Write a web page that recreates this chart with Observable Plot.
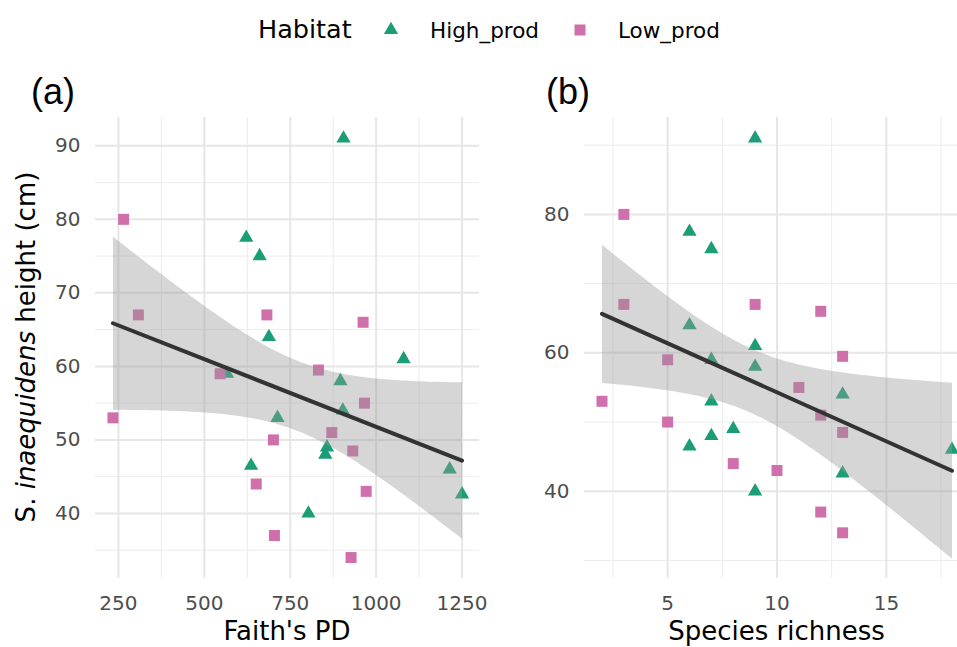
<!DOCTYPE html>
<html><head><meta charset="utf-8">
<script src="https://cdn.jsdelivr.net/npm/d3@7"></script>
<script src="https://cdn.jsdelivr.net/npm/@observablehq/plot@0.6"></script>
<style>
body{margin:0;background:#fff;}
#wrap{position:relative;width:957px;height:647px;overflow:hidden;}
#wrap > .panel{position:absolute;top:0;}
#overlay{position:absolute;left:0;top:0;pointer-events:none;}
</style></head><body><div id="wrap"></div>
<script>
// ---- data ----
const habitatNames = ["High_prod", "Low_prod"];
const habitatColors = ["#1b9e77", "#cf6fab"];
const habitat = [
  "Low_prod","Low_prod","Low_prod","Low_prod","Low_prod","Low_prod","Low_prod","Low_prod",
  "Low_prod","Low_prod","Low_prod","Low_prod","Low_prod","Low_prod","Low_prod",
  "High_prod","High_prod","High_prod","High_prod","High_prod","High_prod","High_prod","High_prod",
  "High_prod","High_prod","High_prod","High_prod","High_prod","High_prod","High_prod"
];
const faithPD = [265, 308, 682, 962, 234, 546, 832, 966, 871, 701, 932, 651, 971, 704, 927,
                 905, 622, 661, 688, 1080, 566, 896, 903, 713, 857, 852, 636, 1214, 1250, 803];
const richness = [3, 3, 9, 12, 2, 5, 13, 11, 12, 5, 13, 8, 10, 12, 13,
                  9, 6, 7, 6, 9, 7, 9, 13, 7, 8, 7, 6, 18, 13, 9];
const heightCm = [80, 67, 67, 66, 53, 59, 59.5, 55, 51, 50, 48.5, 44, 43, 37, 34,
                  91, 77.5, 75, 64, 61, 59, 58, 54, 53, 49, 48, 46.5, 46, 42.6, 40];

// axis ticks / domains
const aXTicks = [250, 500, 750, 1000, 1250];
const aXMinor = [375, 625, 875, 1125];
const aYTicks = [40, 50, 60, 70, 80, 90];
const aYMinor = [35, 45, 55, 65, 75, 85];
const aXDomain = [183.2, 1300.8];
const aYDomain = [31.15, 93.85];
const bXTicks = [5, 10, 15];
const bXMinor = [2.5, 7.5, 12.5, 17.5];
const bYTicks = [40, 60, 80];
const bYMinor = [30, 50, 70, 90];
const bXDomain = [1.2, 18.8];
const bYDomain = [27.4, 94.0];

const rows = heightCm.map((h, i) => ({habitat: habitat[i], pd: faithPD[i], sr: richness[i], h}));

const wrap = document.getElementById("wrap");
const FONT = "DejaVu Sans, sans-serif";

function panel({xKey, xDomain, yDomain, xTicks, xMinor, yTicks, yMinor, width, marginLeft, marginRight, left}) {
  const p = Plot.plot({
    width, height: 647,
    marginLeft, marginRight, marginTop: 117, marginBottom: 69,
    style: {fontFamily: FONT, fontSize: "20px", color: "#4d4d4d", background: "transparent", overflow: "visible"},
    x: {domain: xDomain, ticks: xTicks, tickSize: 0, tickPadding: 17, tickFormat: d => String(d), label: null},
    y: {domain: yDomain, ticks: yTicks, tickSize: 0, tickPadding: 15, tickFormat: d => String(d), label: null},
    color: {domain: habitatNames, range: habitatColors},
    marks: [
      Plot.ruleX(xMinor, {stroke: "#ececec", strokeWidth: 1}),
      Plot.ruleY(yMinor, {stroke: "#ececec", strokeWidth: 1}),
      Plot.ruleX(xTicks, {stroke: "#e6e6e6", strokeWidth: 2}),
      Plot.ruleY(yTicks, {stroke: "#e6e6e6", strokeWidth: 2}),
      Plot.dot(rows.filter(d => d.habitat === "High_prod"), {x: xKey, y: "h", fill: "habitat", symbol: "triangle", r: 5.3, stroke: "none"}),
      Plot.dot(rows.filter(d => d.habitat === "Low_prod"), {x: xKey, y: "h", fill: "habitat", symbol: "square", r: 6.2, stroke: "none"}),
      Plot.linearRegressionY(rows, {x: xKey, y: "h", stroke: "#333333", strokeWidth: 4, fill: "#999999", fillOpacity: 0.4, ci: 0.95})
    ]
  });
  p.classList.add("panel");
  p.style.left = left + "px";
  wrap.appendChild(p);
}

panel({xKey: "pd", xDomain: aXDomain, yDomain: aYDomain, xTicks: aXTicks, xMinor: aXMinor, yTicks: aYTicks, yMinor: aYMinor,
       width: 481, marginLeft: 95, marginRight: 2, left: 0});
panel({xKey: "sr", xDomain: bXDomain, yDomain: bYDomain, xTicks: bXTicks, xMinor: bXMinor, yTicks: bYTicks, yMinor: bYMinor,
       width: 489, marginLeft: 104, marginRight: 0, left: 480});

// ---- overlay: titles, tags, legend ----
const ns = "http://www.w3.org/2000/svg";
const svg = document.createElementNS(ns, "svg");
svg.setAttribute("id", "overlay");
svg.setAttribute("width", 957);
svg.setAttribute("height", 647);
svg.style.fontFamily = FONT;
wrap.appendChild(svg);
function txt(x, y, s, size, opts = {}) {
  const t = document.createElementNS(ns, "text");
  t.setAttribute("x", x); t.setAttribute("y", y);
  t.setAttribute("font-size", size);
  t.setAttribute("fill", opts.fill || "#000");
  if (opts.anchor) t.setAttribute("text-anchor", opts.anchor);
  if (opts.family) t.setAttribute("font-family", opts.family);
  if (opts.transform) t.setAttribute("transform", opts.transform);
  if (Array.isArray(s)) {
    for (const [str, italic] of s) {
      const ts = document.createElementNS(ns, "tspan");
      ts.textContent = str;
      if (italic) ts.setAttribute("font-style", "italic");
      t.appendChild(ts);
    }
  } else t.textContent = s;
  svg.appendChild(t);
  return t;
}
// legend
const legendTitle = "Habitat";
txt(258, 38, legendTitle, 25.5);
txt(430, 38, habitatNames[0], 21.5);
txt(618, 38, habitatNames[1], 21.5);
const tri = document.createElementNS(ns, "path");
tri.setAttribute("d", d3.symbol(d3.symbolTriangle, Math.PI * 5.3 * 5.3)());
tri.setAttribute("transform", "translate(391,30)");
tri.setAttribute("fill", habitatColors[0]);
svg.appendChild(tri);
const sq = document.createElementNS(ns, "path");
sq.setAttribute("d", d3.symbol(d3.symbolSquare, Math.PI * 6.2 * 6.2)());
sq.setAttribute("transform", "translate(580,30)");
sq.setAttribute("fill", habitatColors[1]);
svg.appendChild(sq);
// tags
txt(31, 104, "(a)", 36, {family: "Liberation Sans, Arial, sans-serif"});
txt(546, 104, "(b)", 36, {family: "Liberation Sans, Arial, sans-serif"});
// axis titles
txt(287, 640, "Faith's PD", 26, {anchor: "middle"});
txt(776.5, 640, "Species richness", 26, {anchor: "middle"});
txt(0, 0, [["S. ", false], ["inaequidens", true], [" height (cm)", false]], 26,
    {anchor: "middle", transform: "translate(35,347) rotate(-90)"});
</script>
</body></html>
